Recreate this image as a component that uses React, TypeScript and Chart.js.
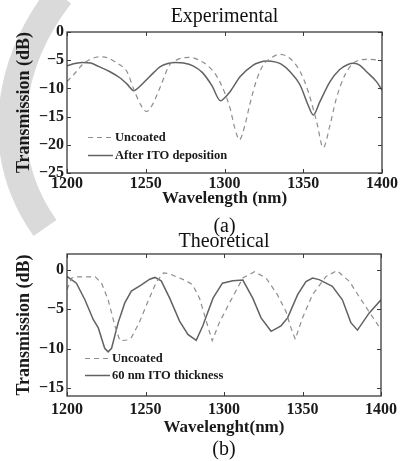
import React, { useEffect, useRef } from "react";
import { Chart, registerables } from "chart.js";

Chart.register(...registerables);

const FONT = "'Liberation Serif', 'Times New Roman', Times, serif";

// ---------- Experimental (a) ----------
const expUncoatedWl = [1200, 1206, 1210, 1215, 1221, 1226, 1230, 1234, 1238, 1243, 1247, 1250.5, 1254, 1259, 1265, 1270, 1278, 1284, 1291, 1297, 1303.5, 1306.5, 1309.5, 1313, 1316, 1320.4, 1324.6, 1329, 1335, 1341.6, 1348, 1353.2, 1358.5, 1362.7, 1367, 1371, 1376.5, 1381.8, 1390, 1395, 1400];
const expUncoated = [-8.8, -7.0, -5.7, -4.8, -4.4, -4.6, -5.2, -5.9, -7.0, -10.6, -13.0, -14.1, -13.0, -9.9, -5.9, -4.9, -4.5, -5.0, -6.4, -8.8, -13.5, -17.0, -19.1, -16.5, -12.9, -8.5, -5.85, -4.7, -3.95, -4.7, -7.0, -10.6, -15.9, -20.5, -16.5, -11.8, -7.6, -5.55, -4.85, -4.9, -5.1];

const expItoWl = [1200, 1205, 1210, 1215, 1220, 1227, 1234, 1238, 1242.5, 1246, 1250, 1255, 1259, 1264, 1269, 1274, 1280, 1286, 1292, 1297.5, 1300, 1303.5, 1310, 1318, 1322, 1327, 1332, 1336, 1341.5, 1348, 1353, 1356.4, 1360.5, 1367, 1373, 1378, 1382, 1386, 1390, 1396.5, 1400];
const expIto = [-6.0, -5.6, -5.4, -5.5, -6.1, -7.0, -8.2, -9.2, -10.4, -9.7, -8.6, -7.2, -6.2, -5.6, -5.4, -5.5, -6.0, -7.2, -9.5, -12.2, -11.7, -10.6, -7.9, -5.9, -5.4, -5.15, -5.3, -5.7, -7.0, -9.4, -12.9, -14.7, -12.4, -8.8, -6.7, -5.8, -5.55, -5.9, -7.0, -8.8, -10.3];

// ---------- Theoretical (b) ----------
const theoUncoatedWl = [1200, 1203, 1205, 1218, 1222, 1226.2, 1230.5, 1233.7, 1238, 1241, 1246, 1251.6, 1257, 1261.5, 1265, 1271.7, 1276, 1280, 1284.4, 1288.7, 1292.5, 1297, 1303.5, 1312, 1319.4, 1326.8, 1334, 1339.5, 1342.7, 1345.4, 1350, 1356.4, 1365, 1372, 1380, 1386, 1392.4, 1400];
const theoUncoated = [-2.5, -1.05, -0.9, -0.9, -1.7, -3.8, -7.1, -9.0, -8.9, -8.6, -6.7, -4.0, -1.5, -0.4, -0.5, -1.05, -1.4, -1.9, -3.6, -6.5, -9.0, -6.7, -4.2, -1.05, -0.25, -1.05, -3.15, -5.3, -7.4, -8.8, -6.1, -3.15, -0.85, -0.1, -1.5, -3.4, -5.3, -7.6];

const theoItoWl = [1200, 1206, 1211.4, 1216.7, 1220, 1224, 1226.2, 1228.4, 1232.6, 1236.8, 1241, 1247.4, 1252.7, 1256, 1260, 1265.4, 1271.7, 1277, 1282.3, 1286.5, 1293, 1299, 1305.6, 1312, 1318.3, 1323.6, 1330, 1336.3, 1340.5, 1346.9, 1352.2, 1356.4, 1360.6, 1365, 1369, 1375.4, 1380.8, 1385, 1392.4, 1400];
const theoIto = [-0.85, -1.7, -3.8, -6.3, -7.4, -9.95, -10.4, -9.95, -6.7, -4.2, -2.7, -1.9, -1.2, -0.97, -1.4, -3.6, -6.5, -8.2, -8.95, -7.1, -3.6, -1.7, -1.4, -1.3, -3.6, -6.1, -7.8, -7.1, -6.1, -3.15, -1.5, -1.05, -1.25, -1.7, -2.1, -3.8, -6.7, -7.65, -5.5, -3.8];

// ---------- Ticks ----------
const xTicks = [1200, 1250, 1300, 1350, 1400];
const expYTicks = [-25, -20, -15, -10, -5, 0];
const theoYTicks = [-15, -10, -5, 0];

const pts = (xs: number[], ys: number[]) => xs.map((x, i) => ({ x, y: ys[i] }));

const boxPlugin = {
  id: "matlabBox",
  afterDatasetsDraw(chart: any) {
    const { ctx, chartArea, scales } = chart;
    const { left, right, top, bottom } = chartArea;
    ctx.save();
    ctx.strokeStyle = "#3a3a3a";
    ctx.lineWidth = 1.3;
    ctx.setLineDash([]);
    ctx.strokeRect(left, top, right - left, bottom - top);
    ctx.lineWidth = 1;
    const len = 4;
    scales.x.ticks.forEach((t: any) => {
      const px = Math.round(scales.x.getPixelForValue(t.value)) + 0.5;
      ctx.beginPath();
      ctx.moveTo(px, bottom);
      ctx.lineTo(px, bottom - len);
      ctx.moveTo(px, top);
      ctx.lineTo(px, top + len);
      ctx.stroke();
    });
    scales.y.ticks.forEach((t: any) => {
      const py = Math.round(scales.y.getPixelForValue(t.value)) + 0.5;
      ctx.beginPath();
      ctx.moveTo(left, py);
      ctx.lineTo(left + len, py);
      ctx.moveTo(right, py);
      ctx.lineTo(right - len, py);
      ctx.stroke();
    });
    ctx.restore();
  },
};

const legendPlugin = {
  id: "insetLegend",
  afterDraw(chart: any, _args: any, opts: any) {
    const { ctx, chartArea } = chart;
    const x0 = chartArea.left + opts.offsetX;
    ctx.save();
    chart.data.datasets.forEach((ds: any, i: number) => {
      const y = Math.round(chartArea.bottom - opts.rows[i]) + 0.5;
      ctx.strokeStyle = ds.borderColor;
      ctx.lineWidth = ds.borderWidth;
      ctx.setLineDash(ds.borderDash || []);
      ctx.beginPath();
      ctx.moveTo(x0, y);
      ctx.lineTo(x0 + opts.lineLength, y);
      ctx.stroke();
      ctx.setLineDash([]);
      ctx.fillStyle = "#1a1a1a";
      ctx.font = `bold 12.5px ${FONT}`;
      ctx.textBaseline = "middle";
      ctx.textAlign = "left";
      ctx.fillText(ds.label, x0 + opts.lineLength + opts.gap, y);
    });
    ctx.restore();
  },
};

function makeConfig(p: any) {
  return {
    type: "line",
    data: {
      datasets: [
        {
          label: "Uncoated",
          data: pts(p.uWl, p.u),
          borderColor: "#8e8e8e",
          borderWidth: 1.2,
          borderDash: [5, 4],
          pointRadius: 0,
          fill: false,
          tension: p.tension,
          cubicInterpolationMode: p.mono ? "monotone" : "default",
        },
        {
          label: p.itoLabel,
          data: pts(p.iWl, p.i),
          borderColor: "#626262",
          borderWidth: 1.5,
          pointRadius: 0,
          fill: false,
          tension: p.tension,
          cubicInterpolationMode: p.mono ? "monotone" : "default",
        },
      ],
    },
    options: {
      responsive: false,
      animation: false,
      devicePixelRatio: 1,
      layout: { padding: { left: 0, right: 19, top: 0, bottom: 0 } },
      plugins: {
        legend: { display: false },
        tooltip: { enabled: false },
        title: {
          display: true,
          fullSize: false,
          text: p.title,
          color: "#111",
          font: { family: FONT, size: 20, weight: "normal", lineHeight: 1.2 },
          padding: p.titlePad,
        },
        subtitle: {
          display: true,
          fullSize: false,
          position: "bottom",
          text: p.sub,
          color: "#111",
          font: { family: FONT, size: 20, weight: "normal", lineHeight: 1.2 },
          padding: p.subPad,
        },
        insetLegend: { offsetX: p.legendX, rows: p.legendRows, lineLength: 25, gap: 2 },
      },
      scales: {
        x: {
          type: "linear",
          min: 1200,
          max: 1400,
          afterBuildTicks: (s: any) => {
            s.ticks = xTicks.map((v) => ({ value: v }));
          },
          afterFit: (s: any) => {
            s.height = p.xHeight;
          },
          grid: { display: false, drawTicks: false },
          border: { display: false },
          ticks: {
            autoSkip: false,
            maxRotation: 0,
            padding: p.xTickPad,
            color: "#1a1a1a",
            font: { family: FONT, size: 16, weight: "bold" },
            callback: (v: any) => String(v),
          },
          title: {
            display: true,
            text: p.xTitle,
            color: "#1a1a1a",
            font: { family: FONT, size: 17, weight: "bold", lineHeight: 1.2 },
            padding: { top: 0, bottom: 0 },
          },
        },
        y: {
          type: "linear",
          min: p.yMin,
          max: p.yMax,
          afterBuildTicks: (s: any) => {
            s.ticks = p.yTicks.map((v: number) => ({ value: v }));
          },
          afterFit: (s: any) => {
            s.width = 67;
          },
          grid: { display: false, drawTicks: false },
          border: { display: false },
          ticks: {
            autoSkip: false,
            padding: 3,
            color: "#1a1a1a",
            font: { family: FONT, size: 16, weight: "bold" },
            callback: (v: any) => (v < 0 ? "\u2212" + Math.abs(v) : String(v)),
          },
          title: {
            display: true,
            text: "Transmission (dB)",
            color: "#1a1a1a",
            font: { family: FONT, size: 18, weight: "bold", lineHeight: 1.2 },
            padding: { top: 14, bottom: 0 },
          },
        },
      },
    },
    plugins: [boxPlugin, legendPlugin],
  };
}

const expConfig = () =>
  makeConfig({
    uWl: expUncoatedWl,
    u: expUncoated,
    iWl: expItoWl,
    i: expIto,
    itoLabel: "After ITO deposition",
    title: "Experimental",
    sub: "(a)",
    xTitle: "Wavelength (nm)",
    yMin: -25,
    yMax: 0,
    yTicks: expYTicks,
    titlePad: { top: 5, bottom: 3 },
    subPad: { top: 6, bottom: 0 },
    xHeight: 36,
    xTickPad: 1,
    legendX: 21,
    legendRows: [36, 18],
    tension: 0.4,
    mono: true,
  });

const theoConfig = () =>
  makeConfig({
    uWl: theoUncoatedWl,
    u: theoUncoated,
    iWl: theoItoWl,
    i: theoIto,
    itoLabel: "60 nm ITO thickness",
    title: "Theoretical",
    sub: "(b)",
    xTitle: "Wavelenght(nm)",
    yMin: -16,
    yMax: 2,
    yTicks: theoYTicks,
    titlePad: { top: 4, bottom: 0 },
    subPad: { top: 0, bottom: 1 },
    xHeight: 42,
    xTickPad: 4,
    legendX: 18,
    legendRows: [38, 21],
    tension: 0,
    mono: false,
  });

function ChartCanvas({ make, top, height }: { make: () => any; top: number; height: number }) {
  const ref = useRef<HTMLCanvasElement>(null);
  useEffect(() => {
    const chart = new Chart(ref.current as HTMLCanvasElement, make());
    return () => chart.destroy();
  }, []);
  return (
    <canvas
      ref={ref}
      width={401}
      height={height}
      style={{ position: "absolute", left: 0, top, width: 401, height, display: "block" }}
    />
  );
}

export default function App() {
  return (
    <div
      style={{
        position: "fixed",
        left: 0,
        top: 0,
        width: 401,
        height: 461,
        overflow: "hidden",
        background: "#fff",
      }}
    >
      <svg width={401} height={461} style={{ position: "absolute", left: 0, top: 0 }}>
        <path d="M 60 -5 C 10 60 -10 150 45 228" stroke="#dadada" strokeWidth={28} fill="none" />
      </svg>
      <ChartCanvas make={expConfig} top={0} height={239} />
      <ChartCanvas make={theoConfig} top={226} height={237} />
    </div>
  );
}
